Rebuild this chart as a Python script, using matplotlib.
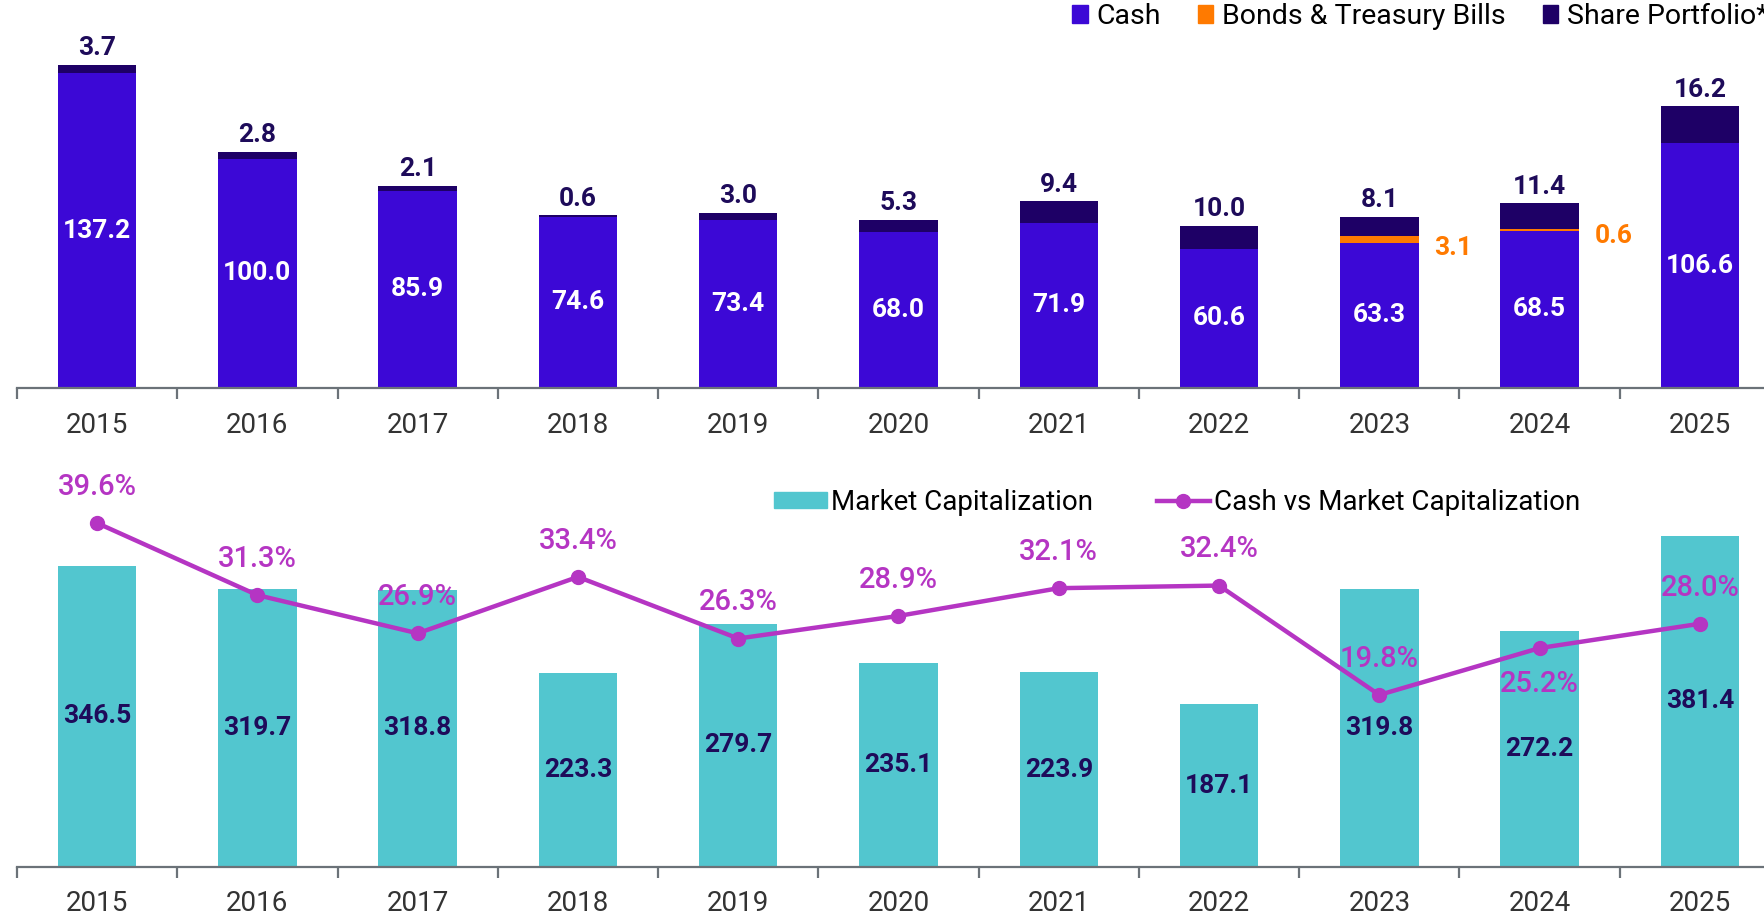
import numpy as np
import matplotlib
matplotlib.use("Agg")
import matplotlib.pyplot as plt
from matplotlib.lines import Line2D
from matplotlib.patches import Patch

plt.rcParams['font.family'] = ['Roboto', 'DejaVu Sans']

years = ['2015', '2016', '2017', '2018', '2019', '2020',
         '2021', '2022', '2023', '2024', '2025']
cash = [137.2, 100.0, 85.9, 74.6, 73.4, 68.0, 71.9, 60.6, 63.3, 68.5, 106.6]
bonds = [0, 0, 0, 0, 0, 0, 0, 0, 3.1, 0.6, 0]
shares = [3.7, 2.8, 2.1, 0.6, 3.0, 5.3, 9.4, 10.0, 8.1, 11.4, 16.2]
market_cap = [346.5, 319.7, 318.8, 223.3, 279.7, 235.1, 223.9, 187.1, 319.8, 272.2, 381.4]
cash_vs_mcap = [39.6, 31.3, 26.9, 33.4, 26.3, 28.9, 32.1, 32.4, 19.8, 25.2, 28.0]

C_CASH = '#3C08D6'
C_BONDS = '#FF7A00'
C_SHARES = '#1E0066'
C_MCAP = '#52C6CF'
C_LINE = '#B535C3'
C_NAVY = '#1E0B5A'
C_AXIS = '#6B7278'
C_YEAR = '#333333'

W, H = 1765, 914
fig = plt.figure(figsize=(W / 100, H / 100), dpi=100)
x = np.arange(len(years))
bw = 0.49


def style_axis(ax):
    for s in ['top', 'right', 'left']:
        ax.spines[s].set_visible(False)
    ax.spines['bottom'].set_color(C_AXIS)
    ax.spines['bottom'].set_linewidth(1.6)
    ax.set_xlim(-0.5, len(years) - 0.5)
    ax.set_xticks(x)
    ax.set_xticklabels(years, fontsize=20, color=C_YEAR)
    ax.set_xticks(np.arange(-0.5, len(years), 1.0), minor=True)
    ax.tick_params(axis='x', which='major', length=0, pad=17)
    ax.tick_params(axis='x', which='minor', length=8, width=1.6, color=C_AXIS)
    ax.set_yticks([])
    ax.patch.set_visible(False)


# top panel: cash, bonds and shares stacked
ax1 = fig.add_axes([17 / W, (H - 388) / H, 1763 / W, 388 / H])
ax1.set_ylim(0, 388 / 2.295)
style_axis(ax1)

bonds_arr = np.array(bonds)
cash_arr = np.array(cash)
ax1.bar(x, cash, bw, color=C_CASH, label='Cash')
ax1.bar(x, bonds, bw, bottom=cash_arr, color=C_BONDS, label='Bonds & Treasury Bills')
ax1.bar(x, shares, bw, bottom=cash_arr + bonds_arr, color=C_SHARES,
        label='Share Portfolio*')

for i in range(len(years)):
    total = cash[i] + bonds[i] + shares[i]
    ax1.text(x[i], cash[i] / 2, f'{cash[i]:.1f}', ha='center', va='center',
             color='white', fontsize=19, fontweight='bold')
    ax1.annotate(f'{shares[i]:.1f}', (x[i], total), xytext=(0, 12),
                 textcoords='offset points', ha='center', va='center',
                 color=C_NAVY, fontsize=19, fontweight='bold')
    if bonds[i] > 0:
        ax1.annotate(f'{bonds[i]:.1f}', (x[i] + bw / 2, cash[i]), xytext=(25, -4),
                     textcoords='offset points', ha='center', va='center',
                     color=C_BONDS, fontsize=19, fontweight='bold')

h1 = [Patch(color=C_CASH), Patch(color=C_BONDS), Patch(color=C_SHARES)]
fig.legend(h1, ['Cash', 'Bonds & Treasury Bills', 'Share Portfolio*'],
           loc='upper left', bbox_to_anchor=(1072 / W, 1 - 3 / H), ncol=3,
           frameon=False, fontsize=20.5, handlelength=0.55, handleheight=0.55,
           handletextpad=0.3, columnspacing=1.3, borderpad=0, borderaxespad=0)

# bottom panel: market capitalization with cash ratio line
ax2 = fig.add_axes([17 / W, (H - 866.8) / H, 1763 / W, 446.8 / H])
ymax2 = 446.8 / 0.868
ax2.set_ylim(0, ymax2)
style_axis(ax2)
ax2.bar(x, market_cap, bw, color=C_MCAP)
for i, v in enumerate(market_cap):
    ax2.text(x[i], v / 2, f'{v:.1f}', ha='center', va='center',
             color=C_NAVY, fontsize=19, fontweight='bold')

ax3 = ax2.twinx()
ax3.set_ylim(0, ymax2 / 10)
ax3.axis('off')
ax3.plot(x, cash_vs_mcap, color=C_LINE, lw=3.2, marker='o', ms=10)
for i, v in enumerate(cash_vs_mcap):
    dy = -26 if years[i] == '2024' else 26
    ax3.annotate(f'{v:.1f}%', (x[i], v), xytext=(0, dy), textcoords='offset points',
                 ha='center', va='center', color=C_LINE, fontsize=21,
                 fontweight='medium')

h2 = [Patch(color=C_MCAP),
      Line2D([], [], color=C_LINE, lw=3.2, marker='o', ms=10)]
fig.legend(h2, ['Market Capitalization', 'Cash vs Market Capitalization'],
           loc='center left', bbox_to_anchor=(774 / W, 1 - 502 / H), ncol=2,
           frameon=False, fontsize=20, handlelength=1.9, handleheight=0.5,
           handletextpad=0.15, columnspacing=2.3, borderpad=0, borderaxespad=0)

fig.savefig('out.png', dpi=100)
